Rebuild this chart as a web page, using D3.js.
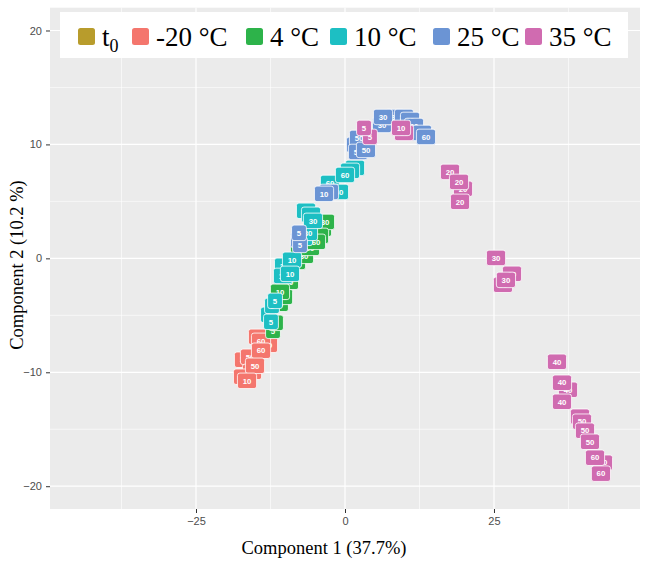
<!DOCTYPE html>
<html><head><meta charset="utf-8">
<script src="https://cdn.jsdelivr.net/npm/d3@7"></script>
<style>body{margin:0;background:#fff}</style>
</head><body><svg id="chart" width="648" height="565"></svg>
<script>
// ---- data ----
const groups = ["t0", "-20 °C", "4 °C", "10 °C", "25 °C", "35 °C"];
const groupColors = ["#B89C2C", "#F4766D", "#2DB34A", "#1DBFC3", "#6B94D4", "#D06BB0"];
const xTicks = [-25, 0, 25];
const yTicks = [-20, -10, 0, 10, 20];
const xTitle = "Component 1 (37.7%)";
const yTitle = "Component 2 (10.2 %)";

const sampleGroup = [
  1,1,1,1,1,1,1,1,1,1,
  2,2,2,2,2,2,2,2,2,2,2,2,2,2,2,
  3,3,3,3,3,3,3,3,3,3,3,3,3,3,3,3,3,3,
  4,4,4,4,4,4,4,4,4,4,4,4,4,4,4,4,4,
  5,5,5,5,5,5,5,5,5,5,5,5,5,5,5,5,5,5,5,5,5,5,5
];
const sampleDay = [
  60,60,10,50,50,10,60,60,50,10,
  5,5,5,10,10,10,20,20,30,30,60,20,30,60,60,
  5,5,5,5,10,10,10,10,30,30,30,30,30,60,60,60,60,60,
  5,5,5,10,10,50,50,50,50,30,30,30,60,60,30,60,60,
  5,5,10,10,20,20,20,20,30,30,30,30,40,40,40,40,50,50,50,50,60,60,60
];
const samplePC1 = [
  -12.92,-14.60,-16.95,-15.94,-15.60,-17.11,-14.09,-14.09,-15.10,-16.44,
  -12.08,-11.58,-10.74,-10.40,-9.40,-10.91,-9.56,-8.22,-6.88,-7.55,-5.87,-3.86,-3.36,-4.36,-4.87,
  -12.92,-12.42,-12.25,-11.74,-10.23,-10.40,-8.89,-9.23,-7.05,-6.21,-6.54,-5.70,-5.37,-2.52,-1.01,1.68,0.84,0.00,
  -7.89,-7.55,-7.72,-2.68,-3.52,1.85,2.35,2.18,3.52,6.21,8.39,9.90,10.91,11.58,6.38,12.92,13.59,
  4.19,3.19,9.90,9.40,17.62,19.80,19.13,19.30,28.02,26.51,25.34,27.01,37.42,35.57,36.41,36.41,39.43,39.77,40.27,41.11,43.29,41.95,42.95
];
const samplePC2 = [
  -7.59,-6.89,-8.90,-8.64,-9.96,-10.39,-7.24,-8.11,-9.43,-10.75,
  -6.36,-5.66,-3.99,-3.38,-2.06,-2.94,-0.83,-0.31,0.22,1.10,0.92,2.59,3.20,1.97,1.45,
  -4.96,-5.57,-4.17,-3.73,-0.66,-1.54,-0.13,-1.36,1.80,2.24,4.17,3.82,3.29,6.62,5.83,7.94,7.68,7.32,
  1.62,1.18,2.24,5.83,5.66,9.96,10.57,9.34,9.52,11.71,12.41,12.41,12.15,11.62,12.41,11.01,10.66,
  10.66,11.45,11.01,11.45,7.59,6.10,6.71,4.96,-1.36,-2.32,0.04,-1.89,-11.54,-9.08,-10.92,-12.59,-13.90,-14.34,-15.13,-16.10,-17.94,-17.50,-18.90
];

// ---- layout ----
const svg = d3.select("#chart");
const P = {left: 50, right: 640, top: 7.7, bottom: 509};
const x = d3.scaleLinear().domain([-49.5, 49.5]).range([P.left, P.right]);
const y = d3.scaleLinear().domain([-22, 22]).range([P.bottom, P.top]);

svg.append("rect").attr("x", P.left).attr("y", P.top)
  .attr("width", P.right - P.left).attr("height", P.bottom - P.top).attr("fill", "#EBEBEB");

const g = svg.append("g");
const xMinor = [-37.5, -12.5, 12.5, 37.5];
const yMinor = [-15, -5, 5, 15];
g.selectAll(".xm").data(xMinor).join("line")
  .attr("x1", d => x(d)).attr("x2", d => x(d)).attr("y1", P.top).attr("y2", P.bottom)
  .attr("stroke", "#fff").attr("stroke-width", 0.6);
g.selectAll(".ym").data(yMinor).join("line")
  .attr("y1", d => y(d)).attr("y2", d => y(d)).attr("x1", P.left).attr("x2", P.right)
  .attr("stroke", "#fff").attr("stroke-width", 0.6);
g.selectAll(".xM").data(xTicks).join("line")
  .attr("x1", d => x(d)).attr("x2", d => x(d)).attr("y1", P.top).attr("y2", P.bottom)
  .attr("stroke", "#fff").attr("stroke-width", 1.2);
g.selectAll(".yM").data(yTicks).join("line")
  .attr("y1", d => y(d)).attr("y2", d => y(d)).attr("x1", P.left).attr("x2", P.right)
  .attr("stroke", "#fff").attr("stroke-width", 1.2);

// axes
const xAxis = d3.axisBottom(x).tickValues(xTicks).tickSize(4).tickPadding(4);
const yAxis = d3.axisLeft(y).tickValues(yTicks).tickSize(4).tickPadding(4);
const ax = svg.append("g").attr("transform", `translate(0,${P.bottom})`).call(xAxis);
const ay = svg.append("g").attr("transform", `translate(${P.left},0)`).call(yAxis);
[ax, ay].forEach(a => {
  a.select(".domain").remove();
  a.selectAll(".tick line").attr("stroke", "#333").attr("stroke-width", 1);
  a.selectAll(".tick text").attr("fill", "#4D4D4D")
    .style("font-family", "'Liberation Sans', Arial, sans-serif").style("font-size", "11px");
});

// axis titles
svg.append("text").attr("x", 324).attr("y", 554)
  .attr("text-anchor", "middle")
  .style("font-family", "'Liberation Serif', 'Times New Roman', serif").style("font-size", "18.5px")
  .attr("fill", "#000").text(xTitle);
svg.append("text").attr("transform", `translate(23,265) rotate(-90)`)
  .attr("text-anchor", "middle")
  .style("font-family", "'Liberation Serif', 'Times New Roman', serif").style("font-size", "18.5px")
  .attr("fill", "#000").text(yTitle);

// labels
const samples = sampleGroup.map((gi, i) => ({g: gi, day: sampleDay[i], pc1: samplePC1[i], pc2: samplePC2[i]}));
const lab = svg.append("g");
samples.forEach(s => {
  const cx = x(s.pc1), cy = y(s.pc2);
  const grp = lab.append("g").attr("transform", `translate(${cx},${cy})`);
  const rect = grp.append("rect");
  const t = grp.append("text").attr("text-anchor", "middle").attr("dy", "0.35em")
    .attr("fill", "#fff")
    .style("font-family", "'Liberation Sans', Arial, sans-serif").style("font-size", "7.8px")
    .style("font-weight", "bold").text(s.day);
  const w = t.node().getComputedTextLength() + 10.5;
  const h = 15.5;
  rect.attr("x", -w / 2).attr("y", -h / 2).attr("width", w).attr("height", h)
    .attr("rx", 2.5).attr("fill", groupColors[s.g]).attr("stroke", "#fff").attr("stroke-width", 0.8);
});

// legend
const L = svg.append("g");
L.append("rect").attr("x", 60).attr("y", 12).attr("width", 568).attr("height", 46).attr("fill", "#fff");
const keyX = [78, 132, 246, 330, 433, 525];
groups.forEach((name, i) => {
  L.append("rect").attr("x", keyX[i]).attr("y", 28).attr("width", 17).attr("height", 17)
    .attr("rx", 2.5).attr("fill", groupColors[i]);
  const t = L.append("text").attr("x", keyX[i] + 24).attr("y", 45.5)
    .style("font-family", "'Liberation Serif', 'Times New Roman', serif").style("font-size", "27px")
    .attr("fill", "#000");
  if (name === "t0") {
    t.append("tspan").text("t");
    t.append("tspan").attr("dy", 6).style("font-size", "18px").text("0");
  } else {
    t.text(name);
  }
});
</script>
</body></html>
